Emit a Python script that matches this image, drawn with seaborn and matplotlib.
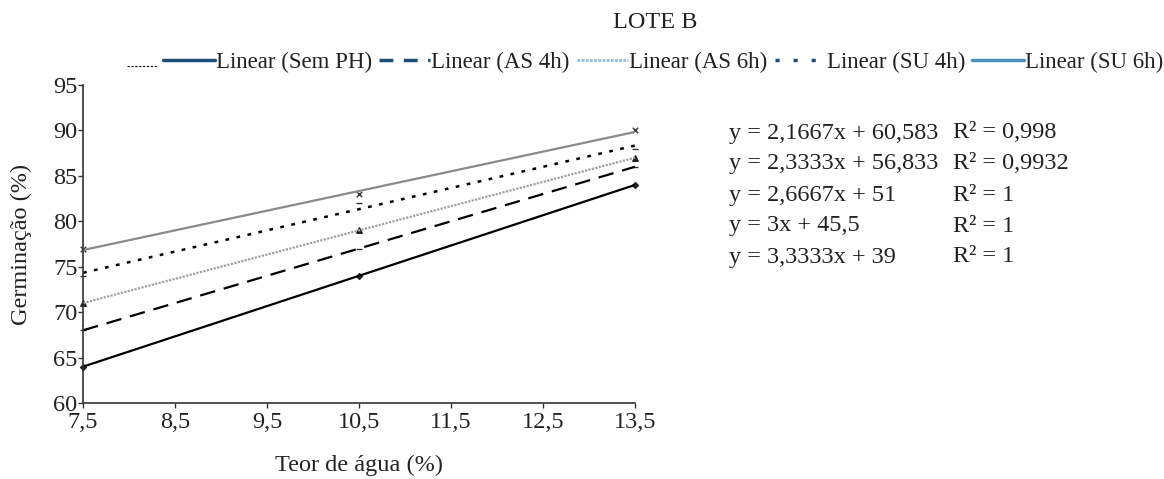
import numpy as np
import pandas as pd
import matplotlib
matplotlib.use("Agg")
import matplotlib.pyplot as plt
from matplotlib.lines import Line2D
import seaborn as sns

# Data
teor = [7.5, 10.5, 13.5]
sem_ph = [64, 74, 84]
as_4h = [68, 77, 86]
as_6h = [71, 79, 87]
su_4h = [74, 82, 88]
su_6h = [77, 83, 90]
series_names = ["Linear (Sem PH)", "Linear (AS 4h)", "Linear (AS 6h)", "Linear (SU 4h)", "Linear (SU 6h)"]
x_ticks = [7.5, 8.5, 9.5, 10.5, 11.5, 12.5, 13.5]
x_ticklabels = ["7,5", "8,5", "9,5", "10,5", "11,5", "12,5", "13,5"]
y_ticks = [60, 65, 70, 75, 80, 85, 90, 95]
equations = ["y = 2,1667x + 60,583", "y = 2,3333x + 56,833", "y = 2,6667x + 51",
             "y = 3x + 45,5", "y = 3,3333x + 39"]
r2_texts = ["R² = 0,998", "R² = 0,9932", "R² = 1", "R² = 1", "R² = 1"]

sns.set_style("white")
plt.rcParams['font.family'] = ['Liberation Serif', 'DejaVu Serif']

W, H = 1164, 479
fig = plt.figure(figsize=(W / 100, H / 100), dpi=100)
ax = fig.add_axes([83 / W, 1 - 403 / H, (635 - 83) / W, (403 - 85) / H])

styles = [
    dict(data=sem_ph, color="black", ls="-", lw=1.6, marker="D", ms=3),
    dict(data=as_4h, color="black", ls=(0, (7, 4)), lw=1.6, marker="_", ms=5),
    dict(data=as_6h, color="#a0a0a0", ls=(0, (1, 0.6)), lw=1.6, marker="^", ms=4),
    dict(data=su_4h, color="black", ls=(0, (1.5, 3)), lw=1.8, marker="_", ms=5),
    dict(data=su_6h, color="#8a8a8a", ls="-", lw=1.6, marker="x", ms=4),
]

for st in styles:
    df = pd.DataFrame({"x": teor, "y": st["data"]})
    sns.regplot(data=df, x="x", y="y", ax=ax, ci=None, truncate=True,
                marker=st["marker"],
                scatter_kws=dict(color="black", s=st["ms"] ** 2, linewidths=1, clip_on=False),
                line_kws=dict(color=st["color"], ls=st["ls"], lw=st["lw"]))

ax.set_xlim(7.5, 13.5)
ax.set_ylim(60, 95)
ax.set_xticks(x_ticks)
ax.set_xticklabels(x_ticklabels)
ax.set_yticks(y_ticks)
ax.tick_params(axis="both", labelsize=17.5, direction="out", length=3.5, width=1,
               bottom=True, left=True, color="#333333", labelcolor="#222222")
ax.tick_params(axis="y", pad=0.5)
ax.tick_params(axis="x", pad=3)
for s in ["top", "right"]:
    ax.spines[s].set_visible(False)
for s in ["left", "bottom"]:
    ax.spines[s].set_color("#333333")
    ax.spines[s].set_linewidth(1.2)
ax.set_xlabel("Teor de água (%)", fontsize=17.5, color="#222222")
ax.set_ylabel("Germinação (%)", fontsize=17.5, color="#222222")
ax.xaxis.set_label_coords(0.5, -(465 - 403) / (403 - 85))
ax.xaxis.label.set_va("center")
ax.yaxis.set_label_coords(-(83 - 21) / (635 - 83), 0.5)
ax.yaxis.label.set_va("center")

fig.text(655 / W, 1 - 22 / H, "LOTE B", ha="center", va="center", fontsize=17.5,
         color="#222222")

# small leftover legend mark
fig.add_artist(Line2D([127 / W, 157 / W], [1 - 66 / H, 1 - 66 / H], color="black",
                      lw=0.8, ls=(0, (2, 1.5)), transform=fig.transFigure))

handles = [
    Line2D([], [], color="#1f4e79", ls="-", lw=2.5),
    Line2D([], [], color="#1f4e79", ls=(0, (4, 3)), lw=2.5),
    Line2D([], [], color="#8cc0e0", ls=(0, (1, 0.5)), lw=2.0),
    Line2D([], [], color="#1f4e79", ls=(0, (1.2, 4)), lw=2.5),
    Line2D([], [], color="#4a90b8", ls="-", lw=2.5),
]
fig.legend(handles, series_names, loc="center left", bbox_to_anchor=(163 / W, 1 - 62 / H),
           ncol=5, frameon=False, fontsize=16.5, handlelength=2.25, handletextpad=0.05,
           columnspacing=0.3, borderaxespad=0, borderpad=0, labelcolor="#222222")

y0 = 133
dy = 31
for i, (eq, r2) in enumerate(zip(equations, r2_texts)):
    fig.text(729 / W, 1 - (y0 + i * dy) / H, eq, ha="left", va="center", fontsize=17.5,
             color="#222222")
    fig.text(953 / W, 1 - (y0 + i * dy) / H, r2, ha="left", va="center", fontsize=17.5,
             color="#222222")

fig.savefig("out.png", dpi=100)
